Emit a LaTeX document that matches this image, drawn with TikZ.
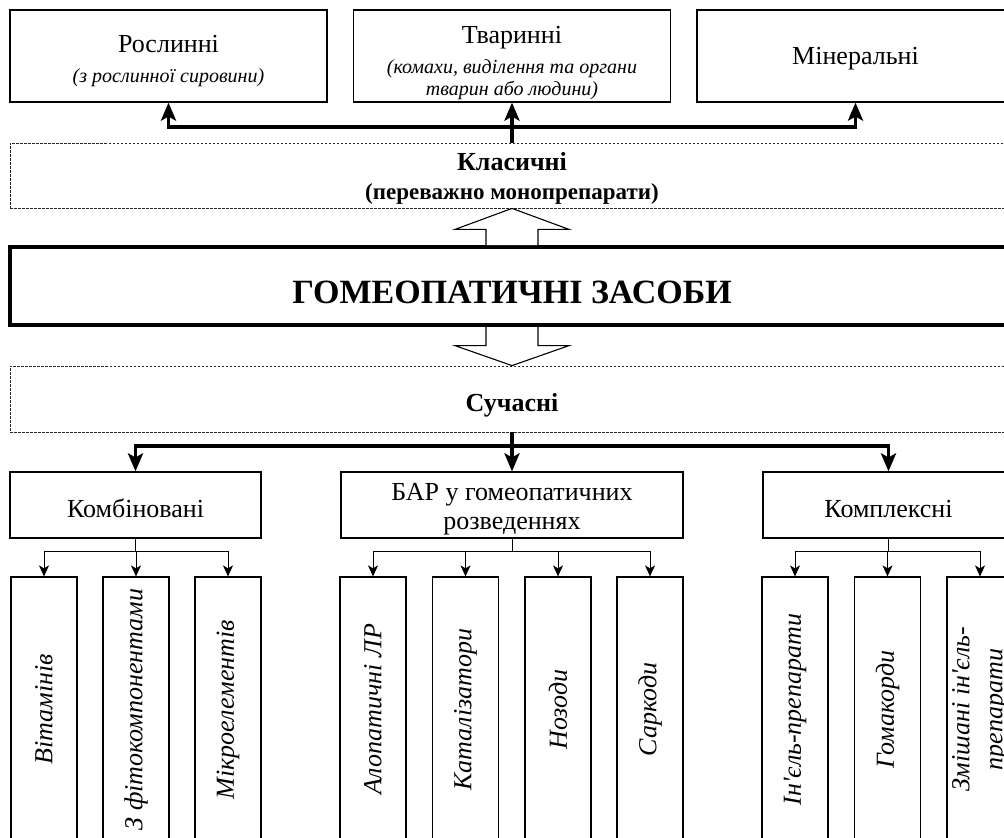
\documentclass[tikz,border=0pt]{standalone}
\usepackage{fontspec}
\setmainfont{Liberation Serif}
\usetikzlibrary{arrows.meta,calc}
\begin{document}
\begin{tikzpicture}[x=1pt,y=-1pt,
  box/.style={draw=black, line width=1.2pt, inner sep=0pt, align=center},
  topbox/.style={box, minimum width=317pt, minimum height=92pt},
  midbox/.style={box, minimum width=251pt, minimum height=66pt},
  leaf/.style={box, minimum width=66pt, minimum height=265pt},
  dbox/.style={draw=black!85, line width=0.8pt, dash pattern=on 2.5pt off 1.5pt, minimum width=1004pt, inner sep=0pt},
  txt/.style={inner sep=0pt, font=\fontsize{26}{31}\selectfont},
  itx/.style={inner sep=0pt, font=\fontsize{20}{23}\selectfont\itshape},
  btx/.style={inner sep=0pt, font=\fontsize{23}{27}\selectfont\bfseries},
  bttx/.style={inner sep=0pt, font=\fontsize{26}{30}\selectfont\bfseries},
  vtx/.style={inner sep=0pt, rotate=90, align=center, font=\fontsize{26}{33}\selectfont\itshape},
  thk/.style={line width=3.5pt},
  thka/.style={thk, -{Stealth[length=18pt,width=15pt,inset=4pt]}},
  thn/.style={line width=0.9pt},
  thna/.style={thn, -{Stealth[length=11pt,width=10pt,inset=3pt]}},
  hollow/.style={draw=black, line width=1.1pt, fill=white, line join=miter}
]
\useasboundingbox (0,0) rectangle (1004,838);
\clip (0,0) rectangle (1004,838);

% top row
\node[topbox] (ros) at (168.5,56) {};
\node[txt, anchor=base] (rosT) at (168.5,52) {Рослинні};
\node[itx, anchor=base] (rosS) at (168.5,82) {(з рослинної сировини)};
\node[topbox] (tva) at (512,56) {};
\node[txt, anchor=base] (tvaT) at (512,43) {Тваринні};
\node[itx, anchor=base] (tvaS1) at (512,73) {(комахи, виділення та органи};
\node[itx, anchor=base] (tvaS2) at (512,95) {тварин або людини)};
\node[topbox] (min) at (855.5,56) {};
\node[txt, anchor=base] (minT) at (855.5,64) {Мінеральні};

% classic
\node[dbox, minimum height=65pt] (klas) at (512,175.5) {};
\node[bttx, anchor=base] (klasT) at (512,170) {Класичні};
\node[btx, anchor=base] (klasS) at (512,199) {(переважно монопрепарати)};

% main
\node[draw=black, line width=4pt, minimum width=1004pt, minimum height=78pt, inner sep=0pt] (main) at (512,286) {};
\node[inner sep=0pt, anchor=base, font=\fontsize{34}{40}\selectfont\bfseries] (mainT) at (512,303) {ГОМЕОПАТИЧНІ ЗАСОБИ};

% modern
\node[dbox, minimum height=66pt] (suc) at (512,399) {};
\node[bttx, anchor=base] (sucT) at (512,411) {Сучасні};

% middle row
\node[midbox] (komb) at (135.5,505) {};
\node[txt, anchor=base] (kombT) at (135.5,517) {Комбіновані};
\node[box, minimum width=342pt, minimum height=66pt] (bar) at (512,505) {};
\node[txt, anchor=base] (barT1) at (512,500) {БАР у гомеопатичних};
\node[txt, anchor=base] (barT2) at (512,529) {розведеннях};
\node[midbox] (kom) at (888.5,505) {};
\node[txt, anchor=base] (komT) at (888.5,517) {Комплексні};

% leaves
\node[leaf] (vit) at (44,709.5) {};
\node[leaf] (fito) at (136,709.5) {};
\node[leaf] (mikro) at (228,709.5) {};
\node[leaf] (alo) at (373,709.5) {};
\node[leaf] (kat) at (465.5,709.5) {};
\node[leaf] (noz) at (558,709.5) {};
\node[leaf] (sar) at (650,709.5) {};
\node[leaf] (inj) at (795,709.5) {};
\node[leaf] (gom) at (887.5,709.5) {};
\node[leaf] (zmi) at (980,709.5) {};
\node[vtx] (vitT) at (vit.center) {Вітамінів};
\node[vtx] (fitoT) at (fito.center) {З фітокомпонентами};
\node[vtx] (mikroT) at (mikro.center) {Мікроелементів};
\node[vtx] (aloT) at (alo.center) {Алопатичні ЛР};
\node[vtx] (katT) at (kat.center) {Каталізатори};
\node[vtx] (nozT) at (noz.center) {Нозоди};
\node[vtx] (sarT) at (sar.center) {Саркоди};
\node[vtx] (injT) at (inj.center) {Ін\textquotesingle єль-препарати};
\node[vtx] (gomT) at (gom.center) {Гомакорди};
\node[vtx] (zmiT) at (zmi.center) {Змішані ін\textquotesingle єль-\\препарати};

% top connectors
\coordinate (tj) at (512,127);
\draw[thk] (klas.north) -- (tj);
\draw[thka] (tj) -| (ros.south);
\draw[thka] (tj) -| (min.south);
\draw[thka] (tj) -- (tva.south);

% hollow arrows
\draw[hollow] ([xshift=-26pt]main.north) -- ([xshift=-26pt,yshift=-21pt]klas.south)
  -- ([xshift=-57pt,yshift=-21pt]klas.south) -- (klas.south)
  -- ([xshift=57pt,yshift=-21pt]klas.south) -- ([xshift=26pt,yshift=-21pt]klas.south)
  -- ([xshift=26pt]main.north);
\draw[hollow] ([xshift=-26pt]main.south) -- ([xshift=-26pt,yshift=20pt]suc.north)
  -- ([xshift=-57pt,yshift=20pt]suc.north) -- (suc.north)
  -- ([xshift=57pt,yshift=20pt]suc.north) -- ([xshift=26pt,yshift=20pt]suc.north)
  -- ([xshift=26pt]main.south);

% middle connectors
\coordinate (mj) at (512,446);
\draw[thk] (suc.south) -- (mj);
\draw[thka] (mj) -| (komb.north);
\draw[thka] (mj) -- (bar.north);
\draw[thka] (mj) -| (kom.north);

% small connectors
\path (komb.south) ++(0,13) coordinate (kj);
\draw[thn] (komb.south) -- (kj);
\foreach \n in {vit,fito,mikro} \draw[thna] (kj) -| (\n.north);
\path (bar.south) ++(0,13) coordinate (bj);
\draw[thn] (bar.south) -- (bj);
\foreach \n in {alo,kat,noz,sar} \draw[thna] (bj) -| (\n.north);
\path (kom.south) ++(0,13) coordinate (cj);
\draw[thn] (kom.south) -- (cj);
\foreach \n in {inj,gom,zmi} \draw[thna] (cj) -| (\n.north);
\end{tikzpicture}
\end{document}
